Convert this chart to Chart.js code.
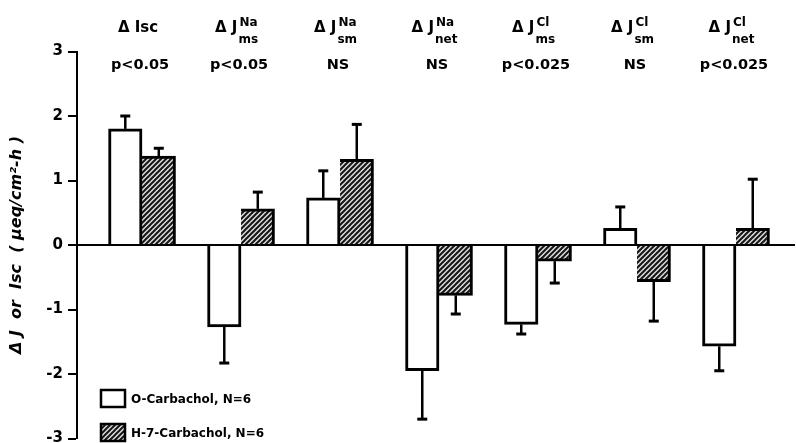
<!DOCTYPE html>
<html>
<head>
<meta charset="utf-8">
<script src="https://cdn.jsdelivr.net/npm/chart.js@4.4.1/dist/chart.umd.min.js"></script>
<style>
  html, body { margin: 0; padding: 0; background: #fff; }
  #wrap { width: 796px; height: 443px; position: relative; }
</style>
</head>
<body>
<div id="wrap"><canvas id="c"></canvas></div>
<script>
// ---- data ----
const categories = ['ΔIsc', 'ΔJNa ms', 'ΔJNa sm', 'ΔJNa net', 'ΔJCl ms', 'ΔJCl sm', 'ΔJCl net'];
const headerMain = ['\u0394 Isc', '\u0394 J', '\u0394 J', '\u0394 J', '\u0394 J', '\u0394 J', '\u0394 J'];
const headerSup  = ['', 'Na', 'Na', 'Na', 'Cl', 'Cl', 'Cl'];
const headerSub  = ['', 'ms', 'sm', 'net', 'ms', 'sm', 'net'];
const pValues    = ['p<0.05', 'p<0.05', 'NS', 'NS', 'p<0.025', 'NS', 'p<0.025'];

const carbacholMean = [1.80, -1.27, 0.73, -1.95, -1.23, 0.26, -1.57];
const carbacholErr  = [0.20, 0.56, 0.42, 0.75, 0.15, 0.33, 0.38];
const h7Mean        = [1.38, 0.56, 1.33, -0.78, -0.25, -0.57, 0.26];
const h7Err         = [0.12, 0.26, 0.54, 0.29, 0.34, 0.61, 0.76];

const yTicks = [-3, -2, -1, 0, 1, 2, 3];
const legendLabels = ['O-Carbachol, N=6', 'H-7-Carbachol, N=6'];

// ---- hatch pattern ----
function makeHatch() {
  const t = document.createElement('canvas');
  t.width = 5; t.height = 5;
  const g = t.getContext('2d');
  g.fillStyle = '#dcdcdc';
  g.fillRect(0, 0, 5, 5);
  g.strokeStyle = '#151515';
  g.lineWidth = 2;
  g.beginPath();
  g.moveTo(-1, 6); g.lineTo(6, -1);
  g.moveTo(-1, 1); g.lineTo(1, -1);
  g.moveTo(4, 6); g.lineTo(6, 4);
  g.stroke();
  return g.createPattern(t, 'repeat');
}
const hatch = makeHatch();

const FONT = "'DejaVu Sans', 'Liberation Sans', sans-serif";

const errorBars = {
  id: 'errorBars',
  afterDatasetsDraw(chart) {
    const ctx = chart.ctx;
    const ys = chart.scales.y;
    const errs = [carbacholErr, h7Err];
    const means = [carbacholMean, h7Mean];
    ctx.save();
    ctx.strokeStyle = '#000';
    ctx.lineWidth = 2.5;
    chart.data.datasets.forEach((ds, di) => {
      const meta = chart.getDatasetMeta(di);
      meta.data.forEach((el, i) => {
        const v = means[di][i];
        const e = errs[di][i];
        const endV = v >= 0 ? v + e : v - e;
        const y0 = ys.getPixelForValue(v);
        const y1 = ys.getPixelForValue(endV);
        ctx.beginPath();
        ctx.moveTo(el.x, y0);
        ctx.lineTo(el.x, y1);
        ctx.stroke();
        ctx.lineWidth = 3;
        ctx.beginPath();
        ctx.moveTo(el.x - 5, y1);
        ctx.lineTo(el.x + 5, y1);
        ctx.stroke();
        ctx.lineWidth = 2.5;
      });
    });
    ctx.restore();
  }
};

const headers = {
  id: 'headers',
  afterDraw(chart) {
    const ctx = chart.ctx;
    const xs = chart.scales.x;
    ctx.save();
    ctx.fillStyle = '#000';
    ctx.textBaseline = 'alphabetic';
    for (let i = 0; i < categories.length; i++) {
      const cx = xs.getPixelForValue(i) - 4;
      ctx.font = 'bold 15px ' + FONT;
      const wMain = ctx.measureText(headerMain[i]).width;
      ctx.font = 'bold 12px ' + FONT;
      const wSup = headerSup[i] ? Math.max(ctx.measureText(headerSup[i]).width, ctx.measureText(headerSub[i]).width) + 2 : 0;
      const total = wMain + wSup;
      let x = cx - total / 2;
      ctx.font = 'bold 15px ' + FONT;
      ctx.textAlign = 'left';
      ctx.fillText(headerMain[i], x, 32);
      if (headerSup[i]) {
        ctx.font = 'bold 12px ' + FONT;
        ctx.fillText(headerSup[i], x + wMain + 2, 26);
        ctx.fillText(headerSub[i], x + wMain + 1, 43);
      }
      ctx.font = 'bold 14.5px ' + FONT;
      ctx.textAlign = 'center';
      ctx.fillText(pValues[i], xs.getPixelForValue(i) - 2, 69);
    }
    // legend
    ctx.textAlign = 'left';
    ctx.textBaseline = 'middle';
    ctx.lineWidth = 2.5;
    ctx.strokeStyle = '#000';
    const boxes = [{ y: 390, fill: '#fff' }, { y: 424, fill: hatch }];
    boxes.forEach((b, k) => {
      ctx.fillStyle = b.fill;
      ctx.fillRect(101, b.y, 24, 17);
      ctx.strokeRect(101, b.y, 24, 17);
      ctx.fillStyle = '#000';
      ctx.font = 'bold 12px ' + FONT;
      ctx.fillText(legendLabels[k], 131, b.y + 9.5);
    });
    ctx.restore();
  }
};

new Chart(document.getElementById('c'), {
  type: 'bar',
  data: {
    labels: categories,
    datasets: [
      {
        label: legendLabels[0],
        data: carbacholMean.map((v, i) => ({ x: i, y: v })),
        backgroundColor: '#fff',
        borderColor: '#000',
        borderWidth: 3,
        borderSkipped: 'start'
      },
      {
        label: legendLabels[1],
        data: h7Mean.map((v, i) => ({ x: i, y: v })),
        backgroundColor: hatch,
        borderColor: '#000',
        borderWidth: { left: 0, right: 3, top: 3, bottom: 3 },
        borderSkipped: 'start'
      }
    ]
  },
  options: {
    responsive: true,
    maintainAspectRatio: false,
    animation: false,
    datasets: { bar: { barThickness: 33.5 } },
    layout: { padding: { top: 51.5, bottom: 4.5, left: 0, right: 1 } },
    plugins: { legend: { display: false }, tooltip: { enabled: false } },
    scales: {
      x: {
        type: 'linear',
        min: -0.657,
        max: 6.596,
        offset: false,
        display: false
      },
      y: {
        min: -3,
        max: 3,
        afterBuildTicks(scale) { scale.ticks = yTicks.map(v => ({ value: v })); },
        afterFit(scale) { scale.width = 77; scale.paddingTop = 0; scale.paddingBottom = 0; },
        ticks: {
          color: '#000',
          font: { family: FONT, size: 15, weight: 'bold' },
          padding: 5,
          callback: v => String(v)
        },
        grid: {
          drawOnChartArea: true,
          color: c => (c.tick && c.tick.value === 0 ? '#000' : 'rgba(0,0,0,0)'),
          lineWidth: c => (c.tick && c.tick.value === 0 ? 2 : 0),
          tickColor: '#000',
          tickLength: 9,
          tickWidth: 2
        },
        border: { display: true, color: '#000', width: 2 },
        title: {
          display: true,
          text: '\u0394 J  or  Isc  ( \u03bceq/cm\u00b2-h )',
          color: '#000',
          font: { family: FONT, size: 16, weight: 'bold', style: 'italic' },
          padding: { top: 7, bottom: 0 }
        }
      }
    }
  },
  plugins: [errorBars, headers]
});
</script>
</body>
</html>
